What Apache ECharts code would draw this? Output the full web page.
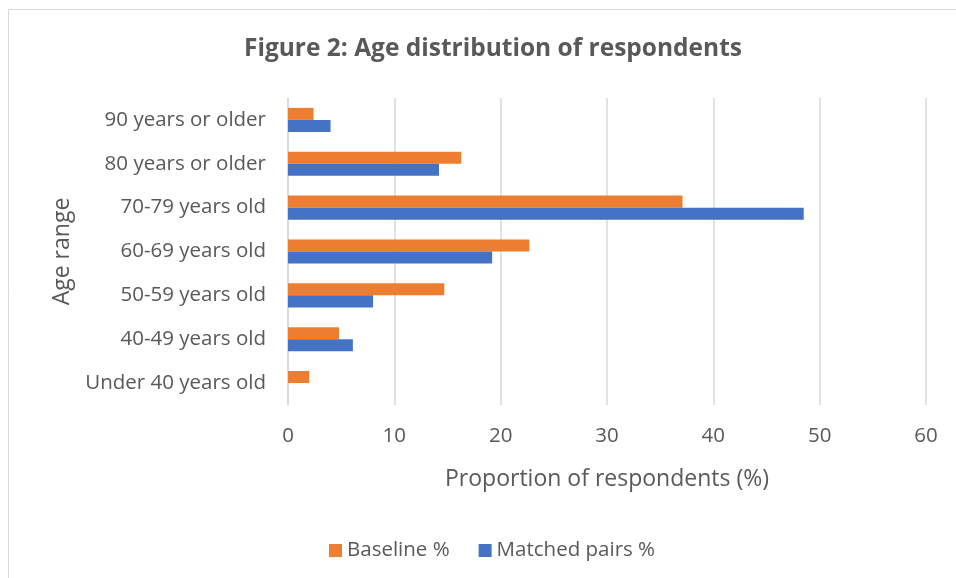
<!DOCTYPE html>
<html>
<head>
<meta charset="utf-8">
<script src="https://cdn.jsdelivr.net/npm/echarts@6/dist/echarts.min.js"></script>
<style>html,body{margin:0;padding:0;background:#fff}#c{width:956px;height:578px}</style>
</head>
<body>
<div id="c"></div>
<script>
var categories = ['Under 40 years old','40-49 years old','50-59 years old','60-69 years old','70-79 years old','80 years or older','90 years or older'];
var baseline = [2.0, 4.8, 14.7, 22.7, 37.1, 16.3, 2.4];
var matched = [0, 6.1, 8.0, 19.2, 48.5, 14.2, 4.0];
var xTicks = [0, 10, 20, 30, 40, 50, 60];

var txt = '#595959';
var font = 'Open Sans';
var chart = echarts.init(document.getElementById('c'));
chart.setOption({
  animation: false,
  title: {
    text: 'Figure 2: Age distribution of respondents',
    left: 239, top: 32,
    textStyle: {fontFamily: font, fontSize: 24.5, fontWeight: 'bold', color: txt}
  },
  graphic: [{type: 'rect', shape: {x: 8.5, y: 9.5, width: 1200, height: 1200}, style: {fill: 'none', stroke: '#d9d9d9', lineWidth: 1}, silent: true}],
  legend: {
    data: ['Baseline %', 'Matched pairs %'],
    top: 535, left: 324,
    icon: 'rect', itemWidth: 13, itemHeight: 13, itemGap: 29,
    textStyle: {fontFamily: font, fontSize: 20.5, color: txt}
  },
  grid: {left: 288, right: 30, top: 98, bottom: 173, containLabel: false},
  xAxis: {
    type: 'value', min: xTicks[0], max: xTicks[xTicks.length-1], interval: 10,
    name: 'Proportion of respondents (%)', nameLocation: 'middle', nameGap: 63,
    nameTextStyle: {fontFamily: font, fontSize: 23, color: txt},
    axisLine: {show: false}, axisTick: {show: false},
    axisLabel: {fontFamily: font, fontSize: 20.5, color: txt, margin: 21},
    splitLine: {lineStyle: {color: '#d9d9d9', width: 1.5}}
  },
  yAxis: {
    type: 'category', data: categories,
    name: 'Age range', nameLocation: 'middle', nameGap: 214, nameRotate: 90,
    nameTextStyle: {fontFamily: font, fontSize: 23, color: txt},
    axisLine: {lineStyle: {color: '#d9d9d9', width: 1.5}}, axisTick: {show: false},
    axisLabel: {fontFamily: font, fontSize: 20.5, color: txt, margin: 22}
  },
  series: [
    {name: 'Baseline %', type: 'bar', data: baseline, itemStyle: {color: '#ED7D31'}, barGap: '0%', barCategoryGap: '45%'},
    {name: 'Matched pairs %', type: 'bar', data: matched, itemStyle: {color: '#4472C4'}, barGap: '0%', barCategoryGap: '45%'}
  ]
});
</script>
</body>
</html>
